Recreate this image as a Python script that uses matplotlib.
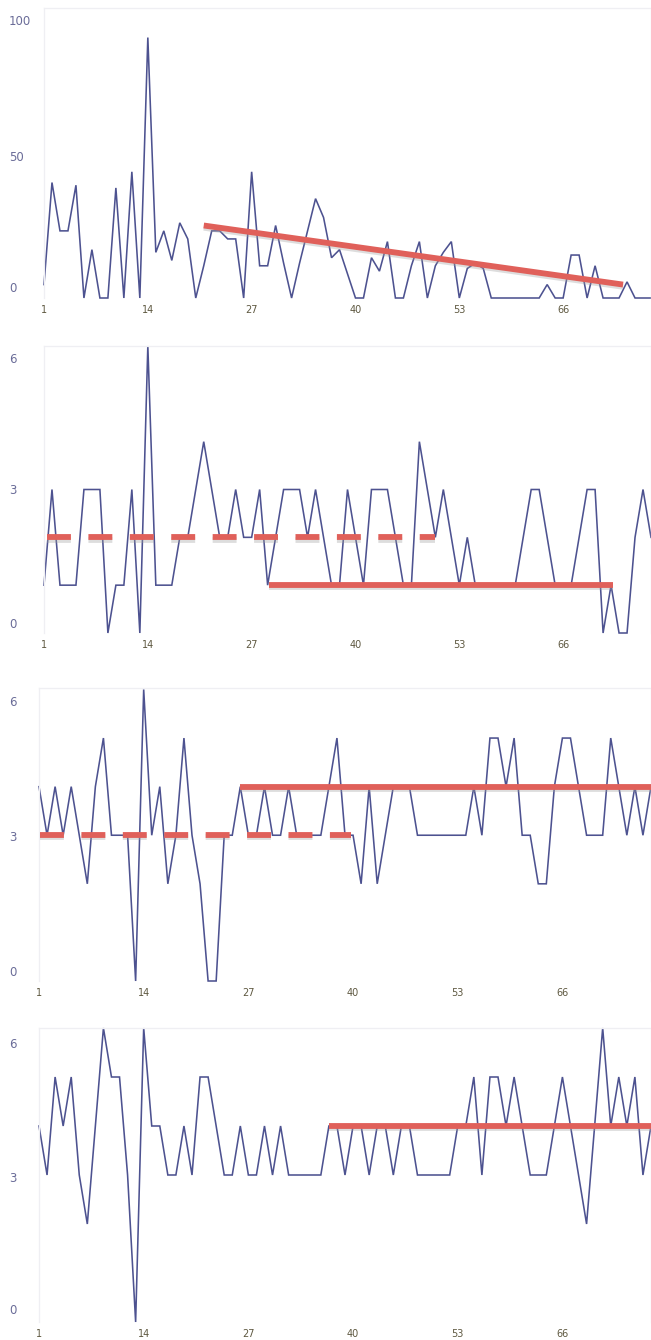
import matplotlib
matplotlib.use("Agg")
import matplotlib.pyplot as plt
import matplotlib.patheffects as pe
from matplotlib.transforms import blended_transform_factory, ScaledTranslation
import numpy as np

# ---------------- data ----------------
x_index = list(range(1, 78))
x_tick_values = [1, 14, 27, 40, 53, 66]

series_1 = [5, 43, 25, 25, 42, 0, 18, 0, 0, 41, 0, 47, 0, 97, 17, 25, 14, 28, 22, 0,
            12, 25, 25, 22, 22, 0, 47, 12, 12, 27, 13, 0, 13, 25, 37, 30, 15, 18, 9, 0,
            0, 15, 10, 21, 0, 0, 12, 21, 0, 12, 17, 21, 0, 11, 13, 11, 0, 0, 0, 0,
            0, 0, 0, 5, 0, 0, 16, 16, 0, 12, 0, 0, 0, 6, 0, 0, 0]
series_2 = [1, 3, 1, 1, 1, 3, 3, 3, 0, 1, 1, 3, 0, 6, 1, 1, 1, 2, 2, 3,
            4, 3, 2, 2, 3, 2, 2, 3, 1, 2, 3, 3, 3, 2, 3, 2, 1, 1, 3, 2,
            1, 3, 3, 3, 2, 1, 1, 4, 3, 2, 3, 2, 1, 2, 1, 1, 1, 1, 1, 1,
            2, 3, 3, 2, 1, 1, 1, 2, 3, 3, 0, 1, 0, 0, 2, 3, 2]
series_3 = [4, 3, 4, 3, 4, 3, 2, 4, 5, 3, 3, 3, 0, 6, 3, 4, 2, 3, 5, 3,
            2, 0, 0, 3, 3, 4, 3, 3, 4, 3, 3, 4, 3, 3, 3, 3, 4, 5, 3, 3,
            2, 4, 2, 3, 4, 4, 4, 3, 3, 3, 3, 3, 3, 3, 4, 3, 5, 5, 4, 5,
            3, 3, 2, 2, 4, 5, 5, 4, 3, 3, 3, 5, 4, 3, 4, 3, 4]
series_4 = [4, 3, 5, 4, 5, 3, 2, 4, 6, 5, 5, 3, 0, 6, 4, 4, 3, 3, 4, 3,
            5, 5, 4, 3, 3, 4, 3, 3, 4, 3, 4, 3, 3, 3, 3, 3, 4, 4, 3, 4,
            4, 3, 4, 4, 3, 4, 4, 3, 3, 3, 3, 3, 4, 4, 5, 3, 5, 5, 4, 5,
            4, 3, 3, 3, 4, 5, 4, 3, 2, 4, 6, 4, 5, 4, 5, 3, 4]

y_ticks_1 = [0, 50, 100]
y_ticks_small = [0, 3, 6]

# reference lines (x start/end, y start/end)
trend_1_x = [21, 73.5]
trend_1_y = [27, 5]
dash_2_x = [1.4, 50]
dash_2_y = [2, 2]
solid_2_x = [29.2, 72.3]
solid_2_y = [1, 1]
dash_3_x = [1.1, 39.8]
dash_3_y = [3, 3]
solid_3_x = [26, 77]
solid_3_y = [4, 4]
solid_4_x = [37, 77]
solid_4_y = [4, 4]

# ---------------- style ----------------
W, H = 651, 1340
BLUE = "#4d5290"
RED = "#e0605a"
FRAME = "#efeff3"
YLAB = "#6a6c98"
XLAB = "#5e5840"

fig = plt.figure(figsize=(W / 100, H / 100), dpi=100)
fig.patch.set_facecolor("white")

# (left px, top px, bottom px, series, ylim, yticks, label shifts px (down +))
panels = [
    (44, 8, 298, series_1, (0, 108), y_ticks_1, [-9, -6, -8]),
    (44, 346, 633, series_2, (0, 6), y_ticks_small, [-8, 1, 13]),
    (39, 688, 981, series_3, (0, 6.03), y_ticks_small, [-8, 2, 13]),
    (39, 1028, 1322, series_4, (0, 6), y_ticks_small, [-12, 4, 17]),
]

shadow = [pe.SimpleLineShadow(offset=(0, -1.6), shadow_color="#a0a0a0", alpha=0.35),
          pe.Normal()]

axes = []
for left, top, bottom, ser, ylim, yt, shifts in panels:
    ax = fig.add_axes([left / W, 1 - bottom / H, (W - left) / W, (bottom - top) / H])
    ax.plot(x_index, ser, color=BLUE, lw=1.15, solid_joinstyle="miter", zorder=2,
            clip_on=False)
    ax.set_xlim(1, 77)
    ax.set_ylim(*ylim)
    ax.set_xticks(x_tick_values)
    ax.set_xticklabels([str(v) for v in x_tick_values], fontsize=7, color=XLAB)
    ax.tick_params(axis="x", length=0, pad=5)
    ax.set_yticks([])
    for s in ["top", "left", "right"]:
        ax.spines[s].set_color(FRAME)
        ax.spines[s].set_linewidth(0.9)
    ax.spines["bottom"].set_visible(False)
    tr = blended_transform_factory(fig.transFigure, ax.transData)
    for v, dy in zip(yt, shifts):
        t = tr + ScaledTranslation(0, -dy / 100, fig.dpi_scale_trans)
        ax.text(9 / W, v, str(v), transform=t, ha="left", va="center",
                fontsize=8.5, color=YLAB)
    axes.append(ax)

LW = 4.2
axes[0].plot(trend_1_x, trend_1_y, color=RED, lw=LW, solid_capstyle="butt",
             zorder=3, path_effects=shadow)
axes[1].plot(dash_2_x, dash_2_y, color=RED, lw=LW, dashes=(4.1, 3.0),
             dash_capstyle="butt", zorder=3, path_effects=shadow)
axes[1].plot(solid_2_x, solid_2_y, color=RED, lw=LW, solid_capstyle="butt",
             zorder=3, path_effects=shadow)
axes[2].plot(dash_3_x, dash_3_y, color=RED, lw=LW, dashes=(4.1, 3.0),
             dash_capstyle="butt", zorder=3, path_effects=shadow)
axes[2].plot(solid_3_x, solid_3_y, color=RED, lw=LW, solid_capstyle="butt",
             zorder=3, path_effects=shadow, clip_on=False)
axes[3].plot(solid_4_x, solid_4_y, color=RED, lw=LW, solid_capstyle="butt",
             zorder=3, path_effects=shadow, clip_on=False)

fig.savefig("out.png", dpi=100, facecolor="white")
